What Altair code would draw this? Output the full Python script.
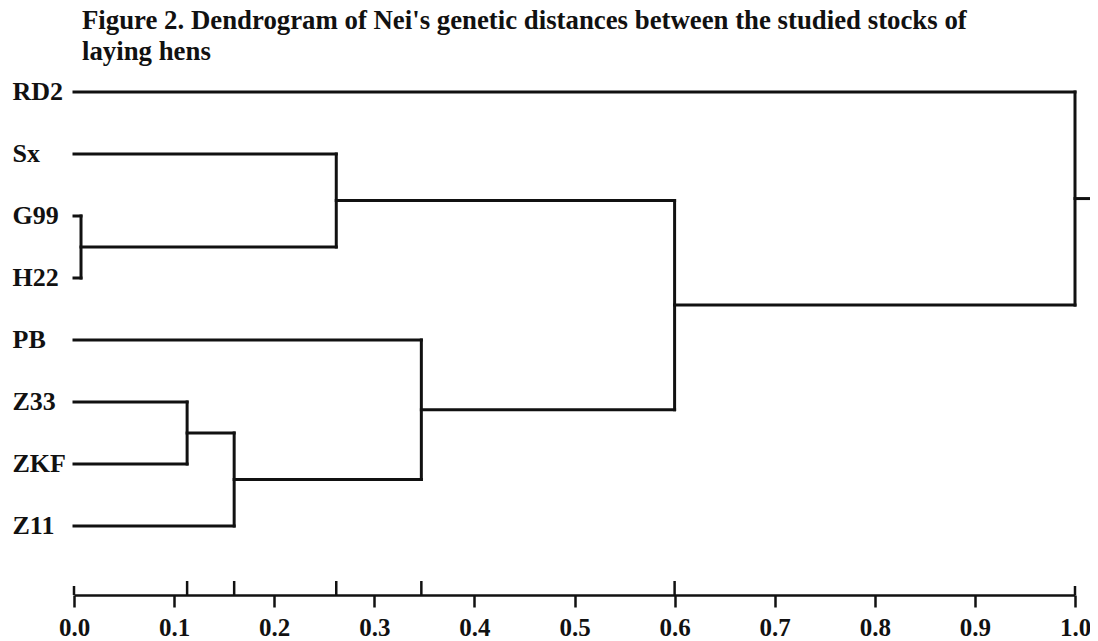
import altair as alt
import pandas as pd

# ---- data ----
leaves = ["RD2", "Sx", "G99", "H22", "PB", "Z33", "ZKF", "Z11"]
merge_names = ["N1", "N2", "N3", "N4", "N5", "N6", "N7"]
merge_left = ["G99", "Sx", "Z33", "N3", "PB", "N2", "RD2"]
merge_right = ["H22", "N1", "ZKF", "Z11", "N4", "N5", "N6"]
merge_height = [0.007, 0.262, 0.113, 0.160, 0.347, 0.600, 1.000]
root_stub_end = 1.016
axis_ticks = [0.0, 0.1, 0.2, 0.3, 0.4, 0.5, 0.6, 0.7, 0.8, 0.9, 1.0]
end_ticks = [0.0, 1.0]
title_lines = [
    "Figure 2. Dendrogram of Nei's genetic distances between the studied stocks of",
    "laying hens",
]

# ---- build dendrogram segments from the linkage ----
pos = {name: (0.0, i) for i, name in enumerate(leaves)}
segs = []
for name, l, r, h in zip(merge_names, merge_left, merge_right, merge_height):
    xl, yl = pos[l]
    xr, yr = pos[r]
    segs.append({"x": xl, "x2": h, "y": yl, "y2": yl})
    segs.append({"x": xr, "x2": h, "y": yr, "y2": yr})
    segs.append({"x": h, "x2": h, "y": yl, "y2": yr})
    pos[name] = (h, (yl + yr) / 2)
rx, ry = pos[merge_names[-1]]
segs.append({"x": rx, "x2": root_stub_end, "y": ry, "y2": ry})
seg_df = pd.DataFrame(segs)

inner_ticks = pd.DataFrame({"x": [h for h in merge_height if 0.05 < h < 0.99]})
end_df = pd.DataFrame({"x": end_ticks})

FONT = "Liberation Serif"
INK = "#111111"
W, H = 1001, 534

label_expr = "[" + ",".join("'" + s + "'" for s in leaves) + "][datum.value]"

dendro = alt.Chart(seg_df).mark_rule(color=INK, strokeWidth=3, strokeCap="square").encode(
    x=alt.X(
        "x:Q",
        scale=alt.Scale(domain=[0, 1], nice=False, zero=False),
        axis=alt.Axis(
            values=axis_ticks, format=".1f", title=None, grid=False,
            tickSize=12, tickWidth=2.5, tickColor=INK,
            domainWidth=2.5, domainColor=INK,
            labelFont=FONT, labelFontSize=25, labelFontWeight="bold",
            labelColor=INK, labelPadding=8, labelFlush=False,
        ),
    ),
    x2="x2:Q",
    y=alt.Y(
        "y:Q",
        scale=alt.Scale(domain=[-0.5, 8.113], nice=False, zero=False, reverse=True),
        axis=alt.Axis(
            values=list(range(len(leaves))), labelExpr=label_expr, title=None,
            grid=False, domain=False, ticks=False, tickSize=0,
            labelAlign="left", labelBaseline="middle", labelPadding=62,
            labelFont=FONT, labelFontSize=26, labelFontWeight="bold", labelColor=INK,
        ),
    ),
    y2="y2:Q",
)

up_ticks = alt.Chart(inner_ticks).mark_rule(color=INK, strokeWidth=2.5).encode(
    x="x:Q", y=alt.value(H), y2=alt.value(H - 14)
)
end_up = alt.Chart(end_df).mark_rule(color=INK, strokeWidth=2.5).encode(
    x="x:Q", y=alt.value(H), y2=alt.value(H - 9)
)

chart = alt.layer(dendro, up_ticks, end_up).properties(
    width=W, height=H,
    background="white",
    title=alt.TitleParams(
        text=title_lines, anchor="start", frame="group", dx=8, offset=-5,
        font=FONT, fontSize=26.8, fontWeight="bold", color=INK, lineHeight=31,
    ),
    autosize="none",
    padding={"left": 66, "top": 53, "right": 15, "bottom": 46},
).configure_view(stroke=None)

chart.save("out.html", embed_options={"renderer": "svg", "actions": False})
